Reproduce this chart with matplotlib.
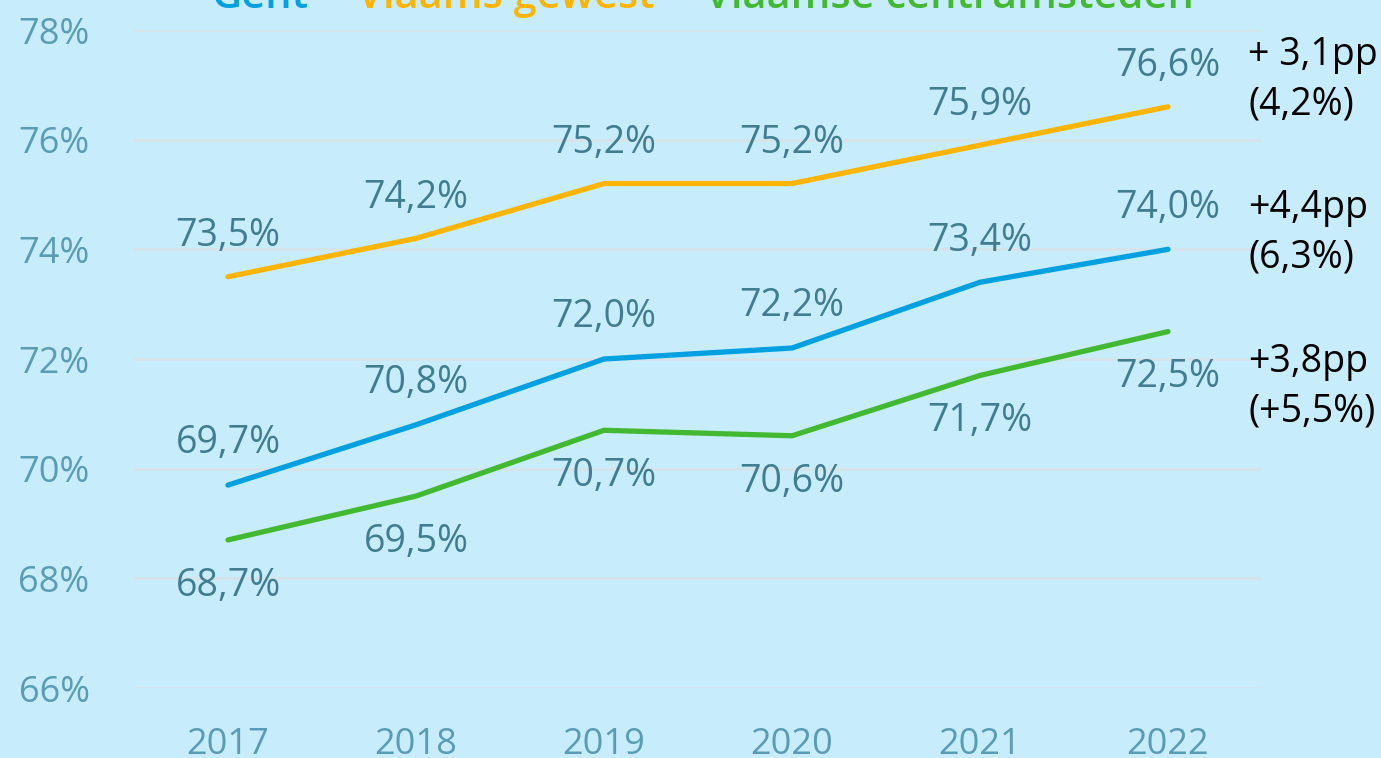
import matplotlib.pyplot as plt
import numpy as np

years = ['2017', '2018', '2019', '2020', '2021', '2022']
gent = [69.7, 70.8, 72.0, 72.2, 73.4, 74.0]
vlaams_gewest = [73.5, 74.2, 75.2, 75.2, 75.9, 76.6]
centrumsteden = [68.7, 69.5, 70.7, 70.6, 71.7, 72.5]

yticks = [66, 68, 70, 72, 74, 76, 78]
ytick_labels = ['66%', '68%', '70%', '72%', '74%', '76%', '78%']

notes = [('+ 3,1pp\n(4,2%)', 77.1), ('+4,4pp\n(6,3%)', 74.3), ('+3,8pp\n(+5,5%)', 71.5)]

BG = '#c7edfd'
C_GENT = '#00a0e1'
C_VG = '#ffb500'
C_CS = '#43b932'
C_LABEL = '#417d91'
C_TICK = '#5a9bb5'

plt.rcParams['font.family'] = ['Open Sans', 'DejaVu Sans']

fig = plt.figure(figsize=(13.81, 7.58), dpi=100, facecolor=BG)
ax = fig.add_axes([134 / 1381, 1 - 688 / 758, (1262 - 134) / 1381, (688 - 30) / 758])
ax.set_facecolor(BG)

x = np.arange(len(years))
series = [(vlaams_gewest, C_VG, 29), (gent, C_GENT, 30), (centrumsteden, C_CS, -33)]
for vals, col, off in series:
    ax.plot(x, vals, color=col, lw=3.8, solid_capstyle='round', solid_joinstyle='round', zorder=3)
    for xi, v in zip(x, vals):
        ax.annotate(f'{v:.1f}%'.replace('.', ','), (xi, v), xytext=(0, off),
                    textcoords='offset points', ha='center', va='center',
                    fontsize=27, color=C_LABEL, zorder=4)

for txt, yv in notes:
    ax.annotate(txt, (5, yv), xytext=(1248, 0), textcoords=('figure pixels', 'offset points'),
                xycoords='data', ha='left', va='center', fontsize=27, color='black',
                linespacing=1.4, annotation_clip=False)

ax.set_xlim(-0.5, 5.5)
ax.set_ylim(66, 78)
ax.set_yticks(yticks)
ax.set_yticklabels(ytick_labels)
ax.set_xticks(x)
ax.set_xticklabels(years)
ax.tick_params(axis='y', length=0, pad=32, labelsize=26, labelcolor=C_TICK)
ax.tick_params(axis='x', length=0, pad=28, labelsize=26, labelcolor=C_TICK)
ax.grid(axis='y', color='#d6e4ea', lw=2, zorder=1)
for s in ax.spines.values():
    s.set_visible(False)

# title, mostly cut off at the top edge
ty = 1 - 8 / 758
fig.text(211 / 1381, ty, 'Gent', color=C_GENT, fontsize=30, weight='semibold', va='baseline')
fig.text(318 / 1381, ty, '–', color='#7f7f7f', fontsize=30, weight='semibold', va='baseline')
fig.text(357 / 1381, ty, 'Vlaams gewest', color=C_VG, fontsize=30, weight='semibold', va='baseline')
fig.text(668 / 1381, ty, '–', color='#7f7f7f', fontsize=30, weight='semibold', va='baseline')
fig.text(705 / 1381, ty, 'Vlaamse centrumsteden', color=C_CS, fontsize=30, weight='semibold', va='baseline')

fig.savefig('out.png', dpi=100, facecolor=BG)
